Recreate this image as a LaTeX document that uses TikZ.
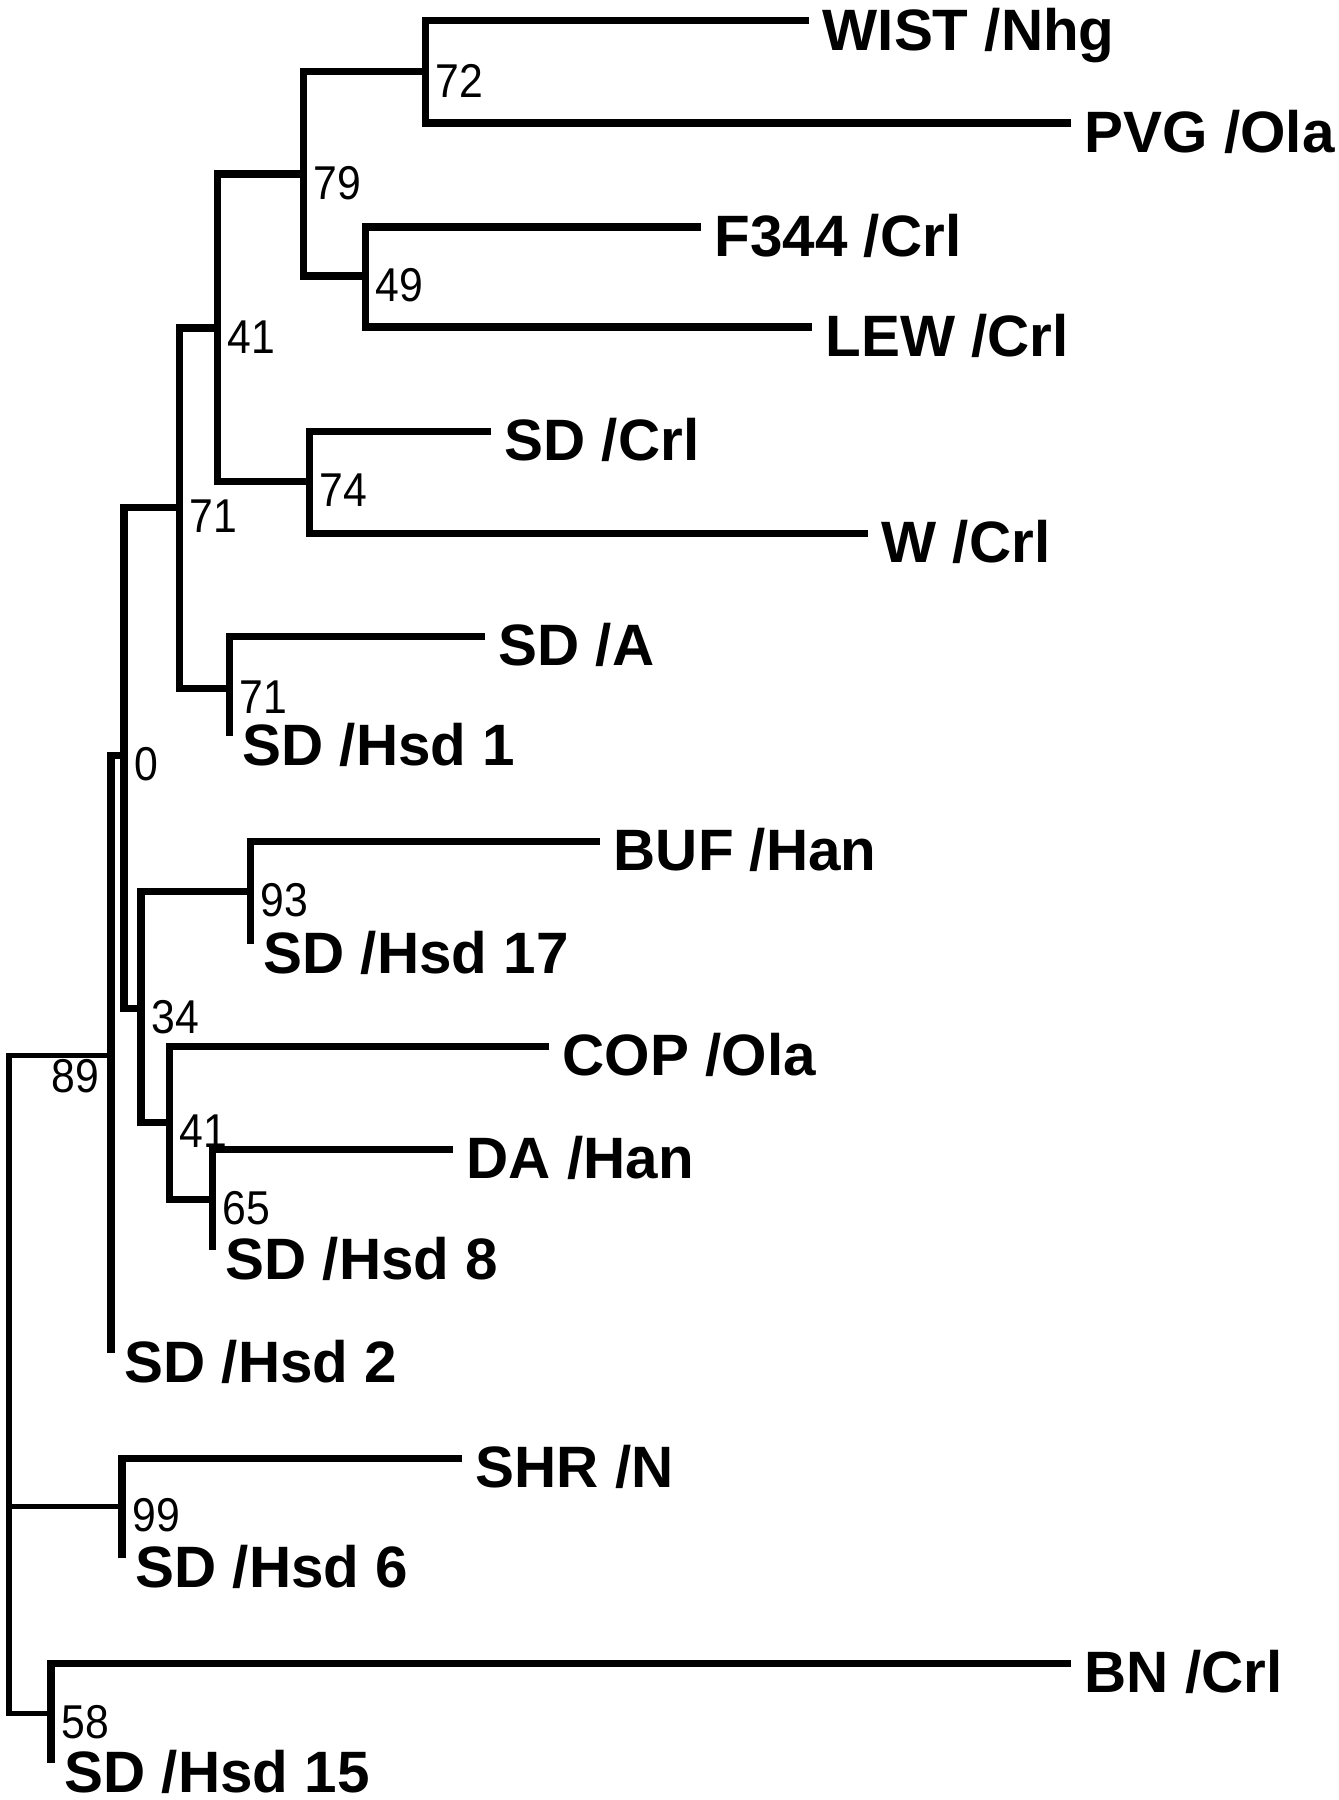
\documentclass[tikz,border=0pt]{standalone}
\usepackage{fontspec}
\setmainfont{Liberation Sans}
\newfontfamily\bootfont[FakeStretch=0.9]{Liberation Sans}
\tikzset{
  branch/.style={line width=0.07cm},
  rootbranch/.style={line width=0.05cm},
  strain/.style={anchor=west, inner xsep=0.13cm, inner ysep=0pt,
    text height=0.58cm, text depth=0pt,
    font=\fontsize{16.6}{19}\selectfont\bfseries},
  bootnum/.style={inner sep=0pt, font=\bootfont\fontsize{13.5}{16}\selectfont},
  boot/.style={bootnum, anchor=north west, xshift=0.10cm, yshift=0.08cm},
  bootleft/.style={bootnum, anchor=north east, xshift=-0.11cm, yshift=-0.04cm}
}
\begin{document}
\begin{tikzpicture}[x=0.01cm,y=-0.01cm]
    \useasboundingbox (0,0) rectangle (1338,1800);
    % branching points (x = depth, y = join of the two children)
    \coordinate (Boot72)    at (425,72);
    \coordinate (Boot79)    at (303,174);
    \coordinate (Boot49)    at (365,276);
    \coordinate (Boot41Up)  at (217,328);
    \coordinate (Boot74)    at (309,481);
    \coordinate (Boot71Up)  at (179,507);
    \coordinate (Boot71Low) at (229,688);
    \coordinate (Boot0)     at (124,755);
    \coordinate (Boot93)    at (250,891);
    \coordinate (Boot34)    at (141,1008);
    \coordinate (Boot89)    at (111,1055);
    \coordinate (Boot41Low) at (169,1122);
    \coordinate (Boot65)    at (212,1199);
    \coordinate (Root)      at (9,1506);
    \coordinate (Boot99)    at (122,1506);
    \coordinate (Boot58)    at (51,1713);

    % strains, the west anchor sits on the branch end
    \node[strain] (Wist)           at (809,21)   {WIST /Nhg};
    \node[strain] (Pvg)            at (1071,123) {PVG /Ola};
    \node[strain] (Fisher)         at (701,227)  {F344 /Crl};
    \node[strain] (Lew)            at (812,327)  {LEW /Crl};
    \node[strain] (SdCrl)          at (491,431)  {SD /Crl};
    \node[strain] (WCrl)           at (868,533)  {W /Crl};
    \node[strain] (SdA)            at (485,636)  {SD /A};
    \node[strain] (SdHsdOne)       at (229,736)  {SD /Hsd 1};
    \node[strain] (Buf)            at (600,841)  {BUF /Han};
    \node[strain] (SdHsdSeventeen) at (250,944)  {SD /Hsd 17};
    \node[strain] (Cop)            at (549,1046) {COP /Ola};
    \node[strain] (Da)             at (453,1149) {DA /Han};
    \node[strain] (SdHsdEight)     at (212,1250) {SD /Hsd 8};
    \node[strain] (SdHsdTwo)       at (111,1353) {SD /Hsd 2};
    \node[strain] (Shr)            at (462,1458) {SHR /N};
    \node[strain] (SdHsdSix)       at (122,1558) {SD /Hsd 6};
    \node[strain] (Bn)             at (1071,1663) {BN /Crl};
    \node[strain] (SdHsdFifteen)   at (51,1763)  {SD /Hsd 15};

    % upper group
    \draw[branch] (Wist.west) -| (Boot72) |- (Pvg.west);
    \draw[branch] (Fisher.west) -| (Boot49) |- (Lew.west);
    \draw[branch] (Boot72) -| (Boot79) |- (Boot49);
    \draw[branch] (SdCrl.west) -| (Boot74) |- (WCrl.west);
    \draw[branch] (Boot79) -| (Boot41Up) |- (Boot74);
    \draw[branch] (SdA.west) -| (Boot71Low) -- (SdHsdOne.west);
    \draw[branch] (Boot41Up) -| (Boot71Up) |- (Boot71Low);
    % middle group
    \draw[branch] (Buf.west) -| (Boot93) -- (SdHsdSeventeen.west);
    \draw[branch] (Da.west) -| (Boot65) -- (SdHsdEight.west);
    \draw[branch] (Cop.west) -| (Boot41Low) |- (Boot65);
    \draw[branch] (Boot93) -| (Boot34) |- (Boot41Low);
    \draw[branch] (Boot71Up) -| (Boot0) |- (Boot34);
    \draw[branch] (Boot0) -| (Boot89) -- (SdHsdTwo.west);
    % lower group
    \draw[branch] (Shr.west) -| (Boot99) -- (SdHsdSix.west);
    \draw[branch] (Bn.west) -| (Boot58) -- (SdHsdFifteen.west);
    \draw[rootbranch] (Boot89) -| (Root) |- (Boot58);
    \draw[rootbranch] (Root) -- (Boot99);

    % bootstrap values
    \node[boot] (L72) at (Boot72) {72};
    \node[boot] (L79) at (Boot79) {79};
    \node[boot] (L49) at (Boot49) {49};
    \node[boot] (L41Up) at (Boot41Up) {41};
    \node[boot] (L74) at (Boot74) {74};
    \node[boot] (L71Up) at (Boot71Up) {71};
    \node[boot] (L71Low) at (Boot71Low) {71};
    \node[boot] (L0) at (Boot0) {0};
    \node[boot] (L93) at (Boot93) {93};
    \node[boot] (L34) at (Boot34) {34};
    \node[bootleft] (L89) at (Boot89) {89};
    \node[boot] (L41Low) at (Boot41Low) {41};
    \node[boot] (L65) at (Boot65) {65};
    \node[boot] (L99) at (Boot99) {99};
    \node[boot] (L58) at (Boot58) {58};
\end{tikzpicture}
\end{document}
